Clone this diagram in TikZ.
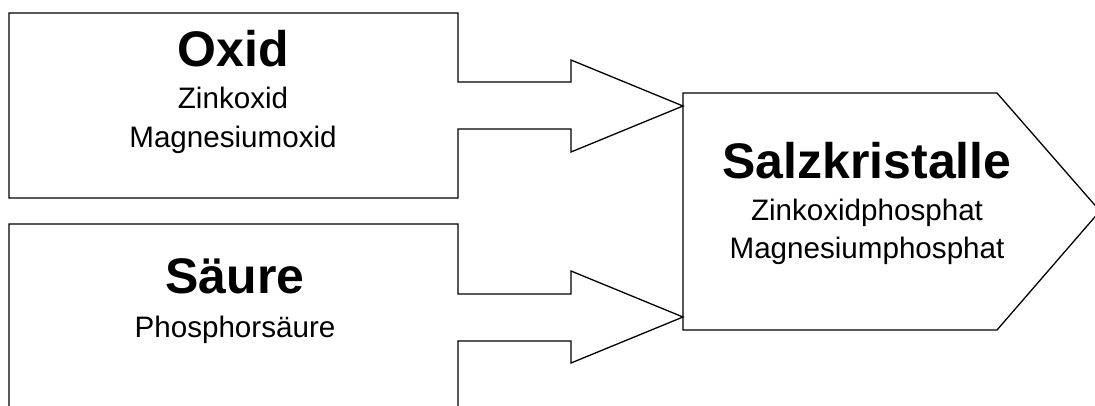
\documentclass[tikz,border=0pt]{standalone}
\usepackage{fontspec}
\setmainfont{Liberation Sans}
\begin{document}
\begin{tikzpicture}[x=1pt,y=-1pt,
  shapeline/.style={draw=black,line width=1.3pt,line join=miter},
  title/.style={anchor=base,inner sep=0pt,font=\fontsize{50}{52}\selectfont\bfseries},
  sub/.style={anchor=base,inner sep=0pt,font=\fontsize{29.6}{31}\selectfont}]
\useasboundingbox (0,0) rectangle (1095,405);
\fill[white] (0,0) rectangle (1095,405);
% coordinates of the shapes
\coordinate (oA) at (9,13);
\coordinate (sA) at (9,224);
\coordinate (pA) at (683,93);
% Oxid block arrow
\draw[shapeline] (oA) -- (458,13) -- (458,82) -- (571,82) -- (571,60) -- (683,106)
  -- (571,152) -- (571,129) -- (458,129) -- (458,198) -- (9,198) -- cycle;
% Saeure block arrow (cut off at bottom)
\draw[shapeline] (9,412) -- (sA) -- (458,224) -- (458,294) -- (571,294) -- (571,271)
  -- (683,317) -- (571,363) -- (571,341) -- (458,341) -- (458,412);
% Salzkristalle pentagon
\draw[shapeline] (pA) -- (997,93) -- (1100,211) -- (997,330) -- (683,330) -- cycle;
% texts
\node[title] (oxid) at (233,66) {Oxid};
\node[sub] (zink) at (233,108) {Zinkoxid};
\node[sub] (magox) at (233,147) {Magnesiumoxid};
\node[title] (saeure) at (235,293) {Säure};
\node[sub] (phos) at (235,337) {Phosphorsäure};
\node[title] (salz) at (867,178) {Salzkristalle};
\node[sub] (zinkph) at (867,220) {Zinkoxidphosphat};
\node[sub] (magph) at (867,258) {Magnesiumphosphat};
\end{tikzpicture}
\end{document}
